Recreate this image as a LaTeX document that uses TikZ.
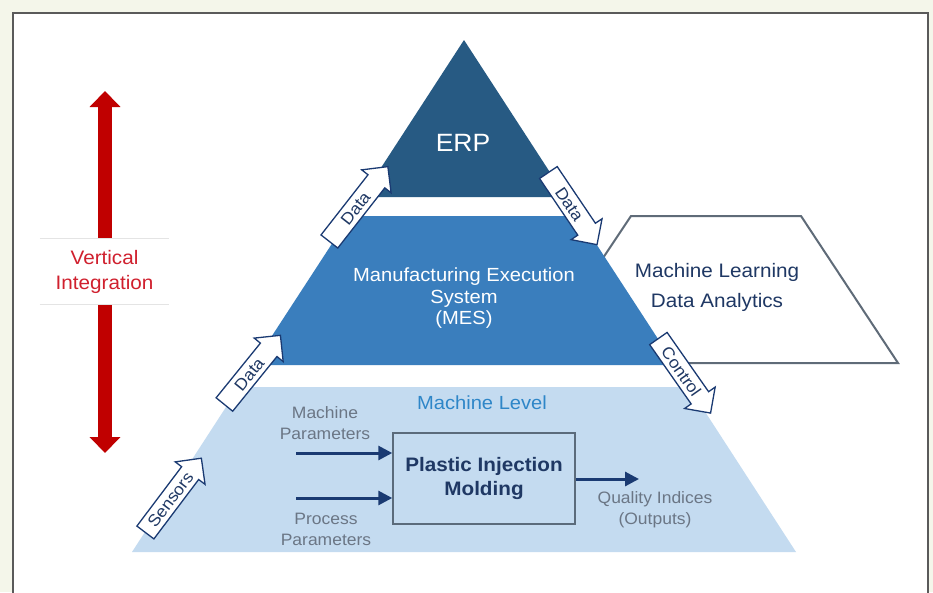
\documentclass[tikz,border=0pt]{standalone}
\usepackage{fontspec}
\setmainfont{Liberation Sans}[FakeStretch=1.06]
\usetikzlibrary{arrows.meta,shapes.arrows}
\definecolor{bgc}{HTML}{F4F6EA}
\definecolor{framec}{HTML}{5A5A5A}
\definecolor{erpc}{HTML}{275A83}
\definecolor{mesc}{HTML}{3A7EBD}
\definecolor{mlc}{HTML}{C4DBF0}
\definecolor{navyc}{HTML}{1A3A72}
\definecolor{navytext}{HTML}{1F3864}
\definecolor{grayt}{HTML}{6B7685}
\definecolor{boxc}{HTML}{5B6B7B}
\definecolor{trapc}{HTML}{5F6B78}
\definecolor{lvlblue}{HTML}{2E86C8}
\definecolor{redc}{HTML}{C00000}
\definecolor{redt}{HTML}{D0202E}
\definecolor{rulec}{HTML}{E4E4E4}
\tikzset{
  blockarr/.style={single arrow, draw=navyc, fill=white, line width=1.3pt,
    single arrow head extend=8pt, inner ysep=4pt, inner xsep=3pt,
    text height=12pt, text depth=0pt, minimum height=#1,
    font=\fontsize{16.5}{16.5}\selectfont, text=navytext},
  flowarr/.style={draw=navyc, line width=3pt, -{Triangle[width=14pt,length=14pt]}},
  gtext/.style={align=center, text=grayt, font=\fontsize{16.5}{21}\selectfont}
}
\begin{document}
\begin{tikzpicture}[x=1pt,y=-1pt]
\fill[bgc] (0,0) rectangle (933,592);
\useasboundingbox (0,0) rectangle (933,592);
\filldraw[draw=framec, fill=white, line width=1.5pt] (13,600) -- (13,13) -- (928,13) -- (928,600);

% ML trapezoid (behind pyramid)
\filldraw[draw=trapc, fill=white, line width=2pt] (631,216) -- (801,216) -- (898,363) -- (533,363) -- cycle;
\node[align=center, text=navytext, font=\fontsize{19.5}{30}\selectfont] (mlt) at (717,287) {Machine Learning\\Data Analytics};

% pyramid levels
\fill[erpc] (464,40) -- (566,197) -- (362,197) -- cycle;
\fill[mesc] (350,216) -- (578,216) -- (675,365) -- (253,365) -- cycle;
\fill[mlc] (239,387) -- (689,387) -- (796,552) -- (132,552) -- cycle;

\node[text=white, font=\fontsize{25}{25}\selectfont] (erp) at (463,143) {ERP};
\node[align=center, text=white, font=\fontsize{19}{21.5}\selectfont] (mes) at (464,298.5) {Manufacturing Execution\\System\\(MES)};
\node[text=lvlblue, font=\fontsize{19}{19}\selectfont] (mlev) at (482,403) {Machine Level};

% plastic injection molding
\node[draw=boxc, line width=1.5pt, fill=mlc, minimum width=182pt, minimum height=91pt,
  align=center, text=navytext, font=\bfseries\fontsize{19.5}{24}\selectfont] (pim) at (484,478.5) {Plastic Injection\\Molding};
\coordinate (mpin) at (296,453);
\coordinate (ppin) at (296,498);
\coordinate (qout) at (639,479);
\draw[flowarr] (mpin) -- (mpin -| pim.west);
\draw[flowarr] (ppin) -- (ppin -| pim.west);
\draw[flowarr] (pim.east |- qout) -- (qout);
\node[gtext] (mpt) at (325,423.5) {Machine\\Parameters};
\node[gtext] (ppt) at (326,529) {Process\\Parameters};
\node[gtext] (qit) at (655,509.5) {Quality Indices\\(Outputs)};

% block arrows
\node[blockarr=93, rotate=53, anchor=tail] (sensors) at (145,533) {Sensors};
\node[blockarr=89, rotate=51, anchor=tail] (data1) at (224,405) {Data};
\node[blockarr=95, rotate=52, anchor=tail] (data2) at (329,242) {Data};
\node[blockarr=87, rotate=-56, anchor=tail] (data3) at (548,172) {Data};
\node[blockarr=91, rotate=-55, anchor=tail] (ctrl) at (658,338) {Control};

% vertical integration
\coordinate (vtop) at (105,91);
\coordinate (vbot) at (105,453);
\draw[redc, line width=14pt, {Triangle[width=30pt,length=16pt]}-{Triangle[width=30pt,length=16pt]}] (vtop) -- (vbot);
\node[fill=white, minimum width=129pt, minimum height=65pt, align=center, text=redt,
  font=\fontsize{19.5}{25}\selectfont] (vi) at (104.5,271.5) {Vertical\\Integration};
\draw[rulec, line width=0.8pt] (vi.north west) -- (vi.north east);
\draw[rulec, line width=0.8pt] (vi.south west) -- (vi.south east);
\end{tikzpicture}
\end{document}
